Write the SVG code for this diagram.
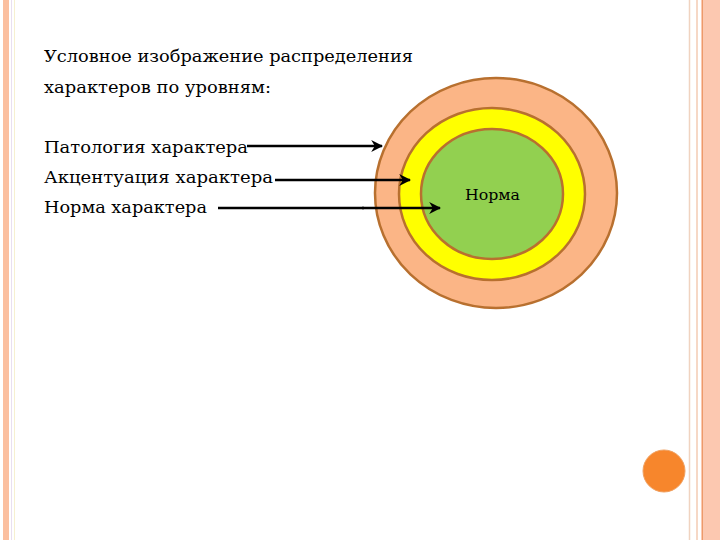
<svg xmlns="http://www.w3.org/2000/svg" width="720" height="540" viewBox="0 0 720 540">
<style>
.t{font-family:"DejaVu Serif","Liberation Serif",serif;font-size:17px;fill:#000}
.ring{stroke:#b8702f;stroke-width:2.5}
.arr{stroke:#000;stroke-width:2.4;fill:none}
</style>
<defs>
<marker id="ah" viewBox="0 0 10 10" refX="9" refY="5" markerWidth="5" markerHeight="5" orient="auto" markerUnits="strokeWidth">
<path d="M0,0 L10,5 L0,10 L3,5 z" fill="#000"/>
</marker>
</defs>
<rect width="720" height="540" fill="#fff"/>
<g id="frame">
<rect x="3" y="0" width="6" height="540" fill="#fbbf9f"/>
<line x1="11.5" y1="0" x2="11.5" y2="540" stroke="#e9dff0" stroke-width="1"/>
<line x1="14.5" y1="0" x2="14.5" y2="540" stroke="#f6f0d0" stroke-width="1"/>
<line x1="689.5" y1="0" x2="689.5" y2="540" stroke="#f0d3c0" stroke-width="1.5"/>
<line x1="697" y1="0" x2="697" y2="540" stroke="#f3cbb3" stroke-width="1.5"/>
<rect x="701" y="0" width="19" height="540" fill="#fcc8b0"/>
<line x1="702.5" y1="0" x2="702.5" y2="540" stroke="#ec9a6a" stroke-width="1"/>
</g>
<g id="title">
<text class="t" x="44" y="62" textLength="369" lengthAdjust="spacingAndGlyphs">Условное изображение распределения</text>
<text class="t" x="44" y="93" textLength="227" lengthAdjust="spacingAndGlyphs">характеров по уровням:</text>
</g>
<g id="circles">
<ellipse id="pathology" class="ring" cx="496" cy="193" rx="121" ry="115" fill="#fbb586"/>
<ellipse id="accent" class="ring" cx="492" cy="194" rx="93" ry="86" fill="#ffff00"/>
<ellipse id="norm" class="ring" cx="492" cy="194" rx="71" ry="65" fill="#92d050"/>
<text x="465" y="200" textLength="55" lengthAdjust="spacingAndGlyphs" font-family="DejaVu Serif, Liberation Serif, serif" font-size="15" fill="#000">Норма</text>
</g>
<g id="labels">
<text class="t" x="44" y="153" textLength="204" lengthAdjust="spacingAndGlyphs">Патология характера</text>
<text class="t" x="44" y="183" textLength="229" lengthAdjust="spacingAndGlyphs">Акцентуация характера</text>
<text class="t" x="44" y="213" textLength="163" lengthAdjust="spacingAndGlyphs">Норма характера</text>
</g>
<g id="connectors">
<line class="arr" x1="247" y1="146" x2="382" y2="146" marker-end="url(#ah)"/>
<line class="arr" x1="275" y1="180" x2="410" y2="180" marker-end="url(#ah)"/>
<line class="arr" x1="218" y1="208" x2="364" y2="208" stroke-width="2"/>
<line class="arr" x1="362" y1="208" x2="440" y2="208" stroke-width="2.8" marker-end="url(#ah)"/>
</g>
<circle id="dot" cx="664" cy="471" r="21" fill="#f7862c" stroke="#f0a060" stroke-width="1"/>
</svg>
